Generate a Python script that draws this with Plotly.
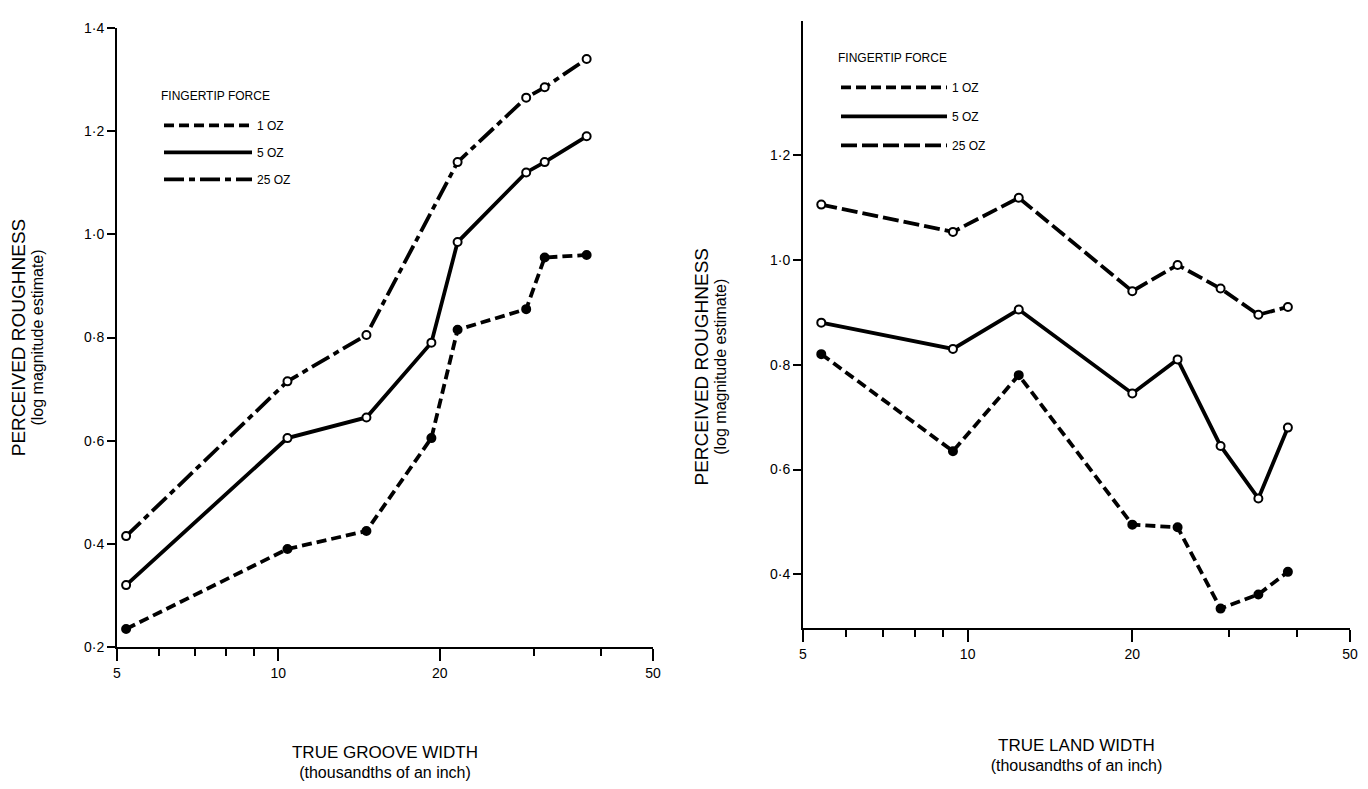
import plotly.graph_objects as go

# ---------------- data ----------------
groove_x = [5.2, 10.4, 14.6, 19.3, 21.6, 29.0, 31.4, 37.6]
groove_1oz = [0.235, 0.39, 0.425, 0.605, 0.815, 0.855, 0.955, 0.96]
groove_5oz = [0.32, 0.605, 0.645, 0.79, 0.985, 1.12, 1.14, 1.19]
groove_25oz_x = [5.2, 10.4, 14.6, 21.6, 29.0, 31.4, 37.6]
groove_25oz = [0.415, 0.715, 0.805, 1.14, 1.265, 1.285, 1.34]

land_x = [5.4, 9.4, 12.4, 20.0, 24.2, 29.0, 34.0, 38.5]
land_1oz = [0.82, 0.635, 0.78, 0.495, 0.49, 0.335, 0.362, 0.405]
land_5oz = [0.88, 0.83, 0.905, 0.745, 0.81, 0.645, 0.545, 0.68]
land_25oz = [1.105, 1.053, 1.118, 0.94, 0.99, 0.945, 0.895, 0.91]

x_major = [5, 10, 20, 50]
x_minor = [6, 7, 8, 9, 30, 40]
y_left_ticks = [0.2, 0.4, 0.6, 0.8, 1.0, 1.2, 1.4]
y_right_ticks = [0.4, 0.6, 0.8, 1.0, 1.2]

series_names = ["1 OZ", "5 OZ", "25 OZ"]

# ---------------- layout helpers ----------------
# the page body has an 8px margin, so the figure is drawn 8px in from the window edge
OFF = 8
W, H = 1368 - 2 * OFF, 789 - 2 * OFF
FONT = "Liberation Sans, Arial, sans-serif"
NB = "\u00a0"


def px_x(p):
    return (p - OFF) / W


def px_y(p):
    return 1 - (p - OFF) / H


def fmt(v):
    return f"{v:.1f}".replace(".", "·")


L_dom_x = [px_x(117), px_x(653)]
L_dom_y = [px_y(647), px_y(28)]
R_dom_x = [px_x(803), px_x(1350)]
R_dom_y = [px_y(628), px_y(21)]

fig = go.Figure()

LW = 3.8
dash_1 = "10px,5px"
dash_25_left = "20px,5px,6px,5px"
dash_25_right = "16px,5px"


def add_series(x, y, name, dash, filled, xa, ya, legend):
    fig.add_trace(go.Scatter(
        x=x, y=y, name=name, mode="lines+markers",
        line=dict(color="black", width=LW, dash=dash),
        marker=dict(size=8, symbol="circle",
                    color="black" if filled else "white",
                    line=dict(color="black", width=2)),
        xaxis=xa, yaxis=ya, legend=legend, showlegend=False,
        legendgroup=legend + name,
    ))
    # legend entry (line sample only, as in the original key)
    fig.add_trace(go.Scatter(
        x=[None], y=[None], name=name, mode="lines",
        line=dict(color="black", width=LW, dash=dash),
        xaxis=xa, yaxis=ya, legend=legend, showlegend=True,
        legendgroup=legend + name,
    ))


# left panel
add_series(groove_x, groove_1oz, series_names[0], dash_1, True, "x", "y", "legend")
add_series(groove_x, groove_5oz, series_names[1], "solid", False, "x", "y", "legend")
add_series(groove_25oz_x, groove_25oz, series_names[2], dash_25_left, False, "x", "y", "legend")
# right panel
add_series(land_x, land_1oz, series_names[0], dash_1, True, "x3", "y3", "legend2")
add_series(land_x, land_5oz, series_names[1], "solid", False, "x3", "y3", "legend2")
add_series(land_x, land_25oz, series_names[2], dash_25_right, False, "x3", "y3", "legend2")

axis_font = dict(family=FONT, size=14, color="black")
ALW = 2

common_x = dict(type="log", range=[0.699, 1.699], showgrid=False, zeroline=False,
                showline=True, linecolor="black", linewidth=ALW, automargin=False,
                ticks="outside", ticklen=12, tickwidth=ALW, tickcolor="black",
                tickmode="array", tickvals=x_major, ticktext=[str(v) for v in x_major],
                tickfont=axis_font,
                minor=dict(tickmode="array", tickvals=x_minor, ticks="outside",
                           ticklen=7, tickwidth=ALW, tickcolor="black", showgrid=False))

top_x = dict(type="log", range=[0.699, 1.699], showgrid=False, zeroline=False,
             showline=True, linecolor="black", linewidth=ALW, side="top", automargin=False,
             ticks="outside", ticklen=12, tickwidth=ALW, tickcolor="black",
             tickmode="array", tickvals=[10, 20], showticklabels=False,
             minor=dict(tickmode="array", tickvals=[6, 7, 8, 9, 30, 40], ticks="outside",
                        ticklen=8, tickwidth=ALW, tickcolor="black", showgrid=False))

common_y = dict(showgrid=False, zeroline=False, showline=True, linecolor="black",
                linewidth=ALW, ticks="outside", ticklen=8, tickwidth=ALW, automargin=False,
                tickcolor="black", tickmode="array", tickfont=axis_font)

ytitle_l = ("<span style='font-size:19px'>PERCEIVED ROUGHNESS</span><br>"
            "<span style='font-size:16px'>(log magnitude estimate)</span>")
# the right-hand title sits lower than the panel centre in the original
ytitle_r = ("<span style='font-size:19px'>PERCEIVED ROUGHNESS" + NB * 16 + "</span><br>"
            "<span style='font-size:16px'>(log magnitude estimate)" + NB * 19 + "</span>")
xtitle_l = ("<span style='font-size:17px'>TRUE GROOVE WIDTH</span><br>"
            "<span style='font-size:16px'>(thousandths of an inch)</span>")
xtitle_r = ("<span style='font-size:17px'>TRUE LAND WIDTH</span><br>"
            "<span style='font-size:16px'>(thousandths of an inch)</span>")

legend_title = dict(text="<span style='font-size:12px'>FINGERTIP FORCE</span><br> ",
                    font=dict(family=FONT, size=8))
legend_common = dict(xref="paper", yref="paper", xanchor="left", yanchor="top",
                     title=legend_title,
                     font=dict(family=FONT, size=12), bgcolor="rgba(0,0,0,0)")

R_RANGE = [0.298, 1.455]

fig.update_layout(
    template="none",
    width=W, height=H, margin=dict(l=0, r=0, t=0, b=0),
    paper_bgcolor="white", plot_bgcolor="white",
    font=dict(family=FONT, color="black"),
    xaxis=dict(**common_x, domain=L_dom_x, anchor="y",
               title=dict(text=xtitle_l, font=dict(family=FONT, size=15), standoff=74)),
    yaxis=dict(**common_y, domain=L_dom_y, anchor="x", range=[0.2, 1.4],
               tickvals=y_left_ticks, ticktext=[fmt(v) for v in y_left_ticks],
               title=dict(text=ytitle_l, font=dict(family=FONT, size=14), standoff=39)),
    xaxis2=dict(**top_x, domain=L_dom_x, anchor="y2", overlaying="x"),
    yaxis2=dict(**common_y, domain=L_dom_y, anchor="x2", range=[0.2, 1.4], side="right",
                overlaying="y", tickvals=y_left_ticks[1:-1], showticklabels=False),
    xaxis3=dict(**common_x, domain=R_dom_x, anchor="y3",
                title=dict(text=xtitle_r, font=dict(family=FONT, size=15), standoff=80)),
    yaxis3=dict(**common_y, domain=R_dom_y, anchor="x3", range=R_RANGE,
                tickvals=y_right_ticks, ticktext=[fmt(v) for v in y_right_ticks],
                title=dict(text=ytitle_r, font=dict(family=FONT, size=14), standoff=40)),
    xaxis4=dict(**top_x, domain=R_dom_x, anchor="y4", overlaying="x3"),
    yaxis4=dict(**common_y, domain=R_dom_y, anchor="x4", range=R_RANGE, side="right",
                overlaying="y3", tickvals=y_right_ticks, showticklabels=False),
    legend=dict(**legend_common, x=px_x(159), y=px_y(90), tracegroupgap=8, itemwidth=88),
    legend2=dict(**legend_common, x=px_x(836), y=px_y(52), tracegroupgap=10, itemwidth=106),
)

fig.write_html("out.html")
